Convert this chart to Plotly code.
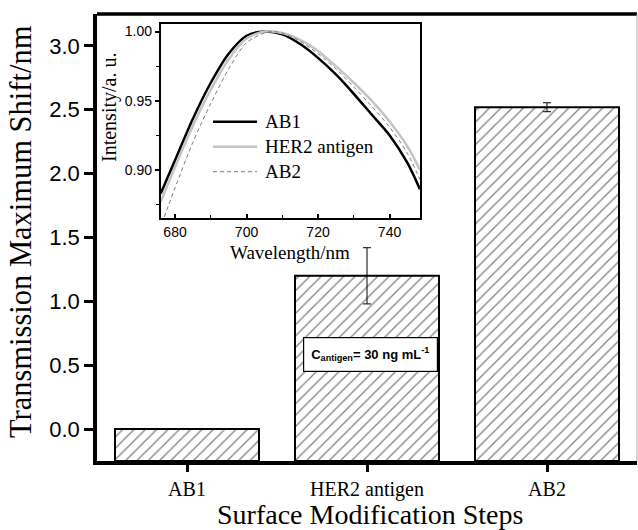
import plotly.graph_objects as go

# ---- main bar data ----
steps = ["AB1", "HER2 antigen", "AB2"]
shift_nm = [0.0, 1.2, 2.52]
shift_err = [0.0, 0.22, 0.035]
y_floor = -0.25  # bars are drawn up from the bottom of the axis

# ---- inset spectra ----
wl_ab1 = [676, 680, 685, 690, 695, 700, 705, 710, 715, 720, 725, 730, 735, 740, 745, 748.5]
int_ab1 = [0.883, 0.907, 0.937, 0.963, 0.984, 0.997, 1.000, 0.998, 0.991, 0.981, 0.969, 0.955, 0.940, 0.925, 0.905, 0.886]
wl_her2 = [676, 680, 685, 690, 695, 700, 705, 710, 715, 720, 725, 730, 735, 740, 745, 748.5]
int_her2 = [0.877, 0.902, 0.932, 0.958, 0.980, 0.995, 1.000, 0.999, 0.994, 0.986, 0.975, 0.963, 0.950, 0.935, 0.917, 0.900]
wl_ab2 = [677, 680, 685, 690, 695, 700, 705, 707, 710, 715, 720, 725, 730, 735, 740, 745, 748.5]
int_ab2 = [0.866, 0.887, 0.920, 0.948, 0.973, 0.992, 0.999, 1.000, 0.999, 0.993, 0.984, 0.973, 0.960, 0.946, 0.931, 0.912, 0.893]

series_names = ["AB1", "HER2 antigen", "AB2"]
series_colors = ["#000000", "#c4c4c4", "#7a7a7a"]
series_widths = [2.5, 2.5, 1.0]
series_dash = ["solid", "solid", "4px,3px"]

SERIF = "Liberation Serif, Times New Roman, serif"
SANS = "Liberation Sans, Arial, sans-serif"

fig = go.Figure()

fig.add_trace(go.Bar(
    x=steps, y=[v - y_floor for v in shift_nm], base=[y_floor] * len(shift_nm),
    width=0.8,
    marker=dict(color="white",
                line=dict(color="black", width=2),
                pattern=dict(shape="/", fgcolor="#000000", bgcolor="white",
                             size=8, solidity=0.16)),
    error_y=dict(type="data", array=shift_err, visible=True,
                 color="black", thickness=1, width=4),
    showlegend=False, xaxis="x", yaxis="y", hoverinfo="skip",
))

for wl, it, nm, c, w, d in zip([wl_ab1, wl_her2, wl_ab2], [int_ab1, int_her2, int_ab2],
                               series_names, series_colors, series_widths, series_dash):
    fig.add_trace(go.Scatter(
        x=wl, y=it, mode="lines", name=nm,
        line=dict(color=c, width=w, dash=d, shape="spline", smoothing=0.8),
        showlegend=False, xaxis="x2", yaxis="y2", hoverinfo="skip",
    ))

inset_x = [0.118, 0.598]
inset_y = [0.543, 0.978]

fig.update_layout(
    width=638, height=530,
    margin=dict(l=97, r=1, t=14, b=69, autoexpand=False),
    paper_bgcolor="white", plot_bgcolor="white",
    xaxis=dict(
        range=[-0.5, 2.5], showline=True, linecolor="black", linewidth=3.5,
        ticks="outside", ticklen=7, tickwidth=3, tickcolor="black",
        tickfont=dict(family=SERIF, size=20, color="black"),
        showgrid=False, zeroline=False, automargin=False,
    ),
    yaxis=dict(
        range=[-0.25, 3.25], showline=True, linecolor="black", linewidth=3.5,
        ticks="outside", ticklen=9, tickwidth=3, tickcolor="black",
        dtick=0.5, tick0=0, tickformat=".1f",
        tickfont=dict(family=SANS, size=22, color="black"),
        showgrid=False, zeroline=False, automargin=False,
    ),
    xaxis2=dict(
        domain=inset_x, anchor="y2", range=[676, 748.5],
        showline=True, mirror=True, linecolor="black", linewidth=1.8,
        ticks="inside", ticklen=4, tickwidth=1.5, tickcolor="black",
        dtick=20, tick0=680,
        minor=dict(dtick=10, ticks="inside", ticklen=3, tickwidth=1.2, tickcolor="black"),
        tickfont=dict(family=SANS, size=14, color="black"),
        showgrid=False, zeroline=False, automargin=False,
    ),
    yaxis2=dict(
        domain=inset_y, anchor="x2", range=[0.865, 1.0056],
        showline=True, mirror=True, linecolor="black", linewidth=1.8,
        ticks="outside", ticklen=4, tickwidth=1.5, tickcolor="black",
        dtick=0.05, tick0=0.9, tickformat=".2f",
        minor=dict(dtick=0.025, ticks="outside", ticklen=3, tickwidth=1.2, tickcolor="black"),
        tickfont=dict(family=SANS, size=14, color="black"),
        showgrid=False, zeroline=False, automargin=False,
    ),
)

PW, PH, L, T = 540.0, 447.0, 97.0, 14.0
def px(xp):
    return (xp - L) / PW
def py(yp):
    return (T + PH - yp) / PH

shapes = [
    dict(type="line", xref="paper", yref="paper", x0=0, x1=1, y0=1, y1=1,
         line=dict(color="black", width=3.5)),
    dict(type="line", xref="paper", yref="paper", x0=1, x1=1, y0=0, y1=1,
         line=dict(color="#aaaaaa", width=1)),
]

annotations = [
    dict(xref="paper", yref="paper", x=px(370), y=py(514), xanchor="center", yanchor="middle",
         showarrow=False, text="Surface Modification Steps",
         font=dict(family=SERIF, size=28, color="black")),
    dict(xref="paper", yref="paper", x=px(21), y=py(232), xanchor="center", yanchor="middle",
         showarrow=False, text="Transmission Maximum Shift/nm", textangle=-90,
         font=dict(family=SERIF, size=30.5, color="black")),
    dict(xref="paper", yref="paper", x=px(290), y=py(252), xanchor="center", yanchor="middle",
         showarrow=False, text="Wavelength/nm",
         font=dict(family=SERIF, size=19, color="black")),
    dict(xref="paper", yref="paper", x=px(110), y=py(108), xanchor="center", yanchor="middle",
         showarrow=False, text="Intensity/a. u.", textangle=-90,
         font=dict(family=SERIF, size=20, color="black")),
]

# custom inset legend
leg_rows_px = [121.7, 146.7, 171.7]
for yy, nm, c, w, d in zip(leg_rows_px, series_names, series_colors, series_widths, series_dash):
    shapes.append(dict(type="line", xref="paper", yref="paper", x0=px(213), x1=px(257),
                       y0=py(yy), y1=py(yy), line=dict(color=c, width=w, dash=d)))
    annotations.append(dict(xref="paper", yref="paper", x=px(263), y=py(yy),
                            xanchor="left", yanchor="middle", showarrow=False,
                            text=nm, font=dict(family=SERIF, size=19, color="black")))

annotations.append(dict(
    xref="paper", yref="paper", x=px(370), y=py(354), xanchor="center", yanchor="middle",
    showarrow=False,
    text="<b>C<sub>antigen</sub>= 30 ng mL<sup>-1</sup></b>",
    font=dict(family=SANS, size=13, color="black"),
    bgcolor="white", bordercolor="black", borderwidth=1.2, borderpad=7,
))

fig.update_layout(shapes=shapes, annotations=annotations)

fig.write_html("out.html", config={"displayModeBar": False},
               post_script="document.body.style.margin='0px';")
